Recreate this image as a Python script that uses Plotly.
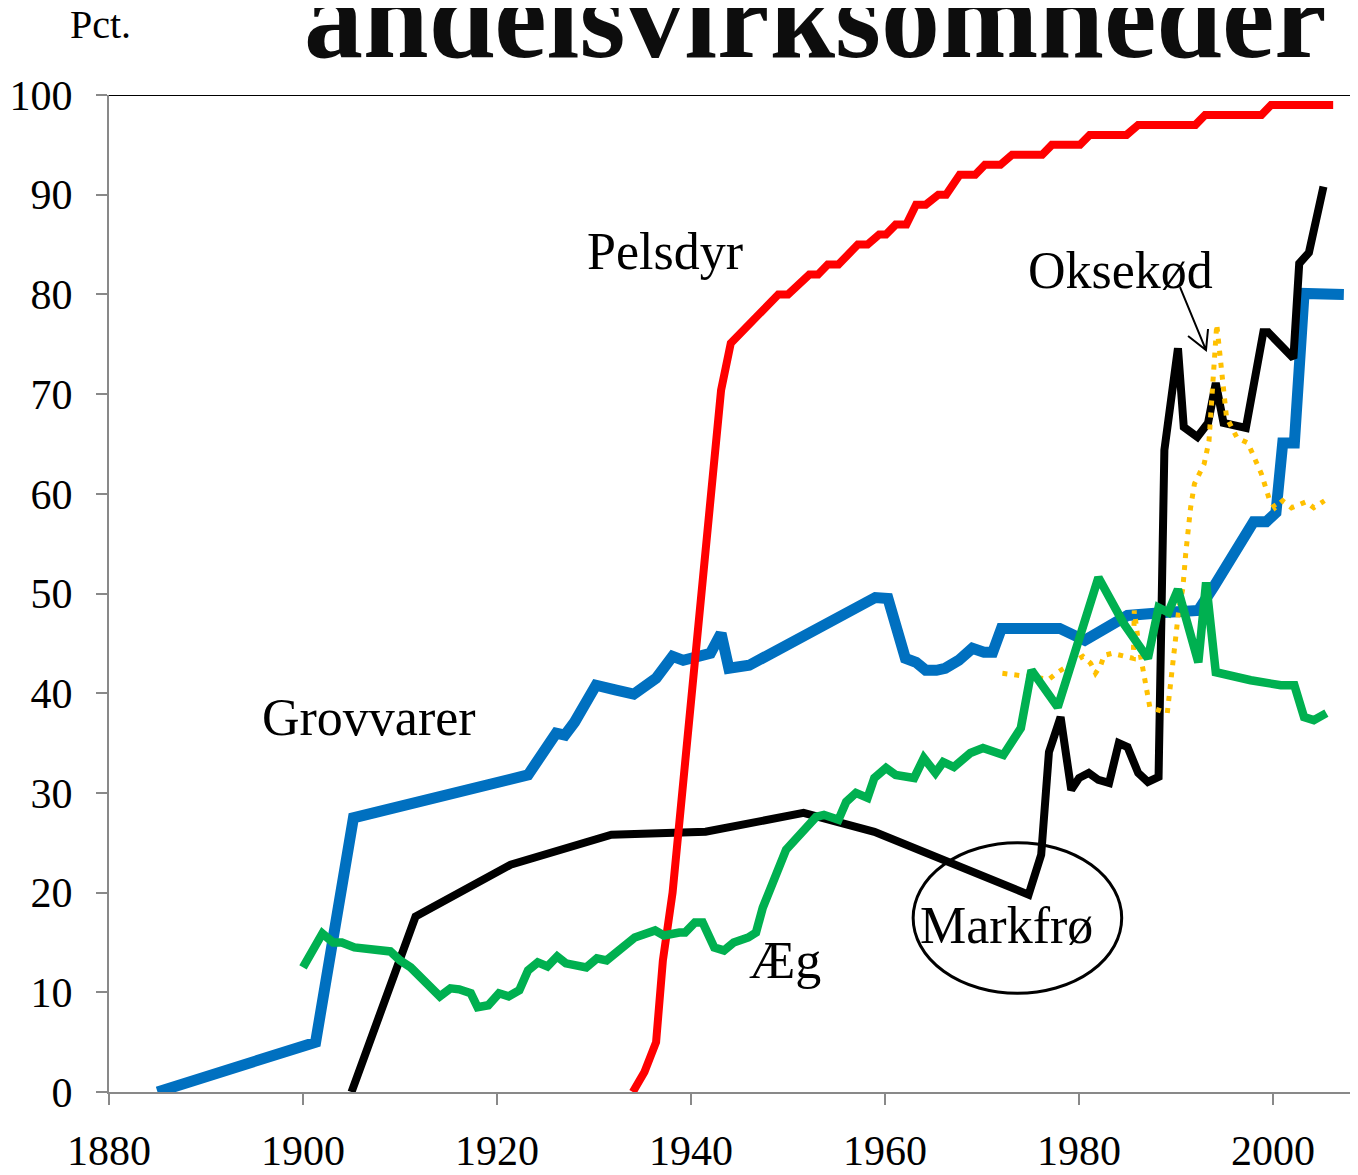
import plotly.graph_objects as go

# ---- data ----
grov_years = [1885, 1901.3, 1905.2, 1923.2, 1926.1, 1927, 1928, 1930.2, 1932.3, 1934.1, 1936.4,
              1938.1, 1939.2, 1941, 1942, 1943.1, 1943.9, 1946, 1959, 1960.3, 1961.3, 1962.1,
              1963.2, 1964.2, 1965.3, 1966.2, 1967.6, 1969, 1970.2, 1971.1, 1972, 1978, 1980.6,
              1985, 1988.8, 1992.3, 1993.9, 1998, 1999.3, 2000.3, 2001, 2002.2, 2003.2, 2007.3]
grov_vals = [0, 5.0, 27.5, 31.8, 36.0, 35.8, 37.1, 40.8, 40.3, 39.9, 41.5,
             43.7, 43.3, 43.8, 44.0, 46.0, 42.5, 42.8, 49.6, 49.5, 45.8, 43.5,
             43.1, 42.3, 42.3, 42.5, 43.3, 44.5, 44.1, 44.1, 46.5, 46.5, 45.3,
             47.8, 48.1, 48.3, 50.7, 57.2, 57.2, 58.1, 65.1, 65.1, 80.1, 80.0]

pels_years = [1934, 1935.2, 1936.4, 1937.1, 1938.1, 1943.1, 1944.1, 1949, 1950, 1952.2, 1953.1,
              1954.1, 1955.2, 1957.2, 1958.2, 1959.4, 1960.1, 1961.1, 1962.2, 1963.2, 1964.2,
              1965.5, 1966.3, 1967.0, 1967.7, 1969.3, 1970.3, 1971.9, 1973.1, 1976.2, 1977.2,
              1980.1, 1981.1, 1984.9, 1986.1, 1992.0, 1993.0, 1998.8, 1999.8, 2006.2]
pels_vals = [0, 2, 5, 13.2, 20, 70.4, 75.1, 80, 80, 82, 82,
             83, 83, 85, 85, 86, 86, 87, 87, 89, 89,
             90, 90, 91, 92, 92, 93, 93, 94, 94, 95,
             95, 96, 96, 97, 97, 98, 98, 99, 99]

mark_years = [1905, 1911.6, 1921.4, 1931.8, 1941.5, 1951.6, 1958.9, 1966.5, 1974.8, 1976.1,
              1976.9, 1978.1, 1979.2, 1980, 1981, 1982, 1983.1, 1984.1, 1985, 1986.1, 1987.1,
              1988.2, 1988.8, 1990.2, 1990.8, 1992.2, 1993.3, 1994.1, 1994.9, 1997.2, 1999,
              1999.5, 2000.6, 2002.1, 2002.7, 2003.7, 2005.2]
mark_vals = [0, 17.6, 22.8, 25.8, 26.1, 28.0, 26.1, 23.0, 19.8, 23.8,
             34.1, 37.6, 30.3, 31.5, 32.0, 31.3, 31.0, 35.0, 34.6, 32.0, 31.1,
             31.6, 64.4, 74.6, 66.7, 65.7, 67.1, 71.1, 67.1, 66.6, 76.2,
             76.2, 75.2, 73.6, 83.1, 84.2, 90.8]

aeg_years = [1900, 1901.1, 1902, 1903.1, 1904, 1905.3, 1907.2, 1909, 1910, 1911.1, 1914.1,
             1915.2, 1916.1, 1917.3, 1918, 1919.1, 1920.2, 1921.2, 1922.3, 1923.2, 1924.2,
             1925.2, 1926.2, 1927.1, 1929.2, 1930.3, 1931.3, 1934.2, 1936.3, 1937.2, 1938.8,
             1939.4, 1940.4, 1941.2, 1942.4, 1943.4, 1944.4, 1945.9, 1946.7, 1947.4, 1949.8,
             1951.3, 1952.9, 1953.7, 1955.2, 1956, 1957, 1958.2, 1958.9, 1960.1, 1961.1,
             1963, 1964, 1965.2, 1966, 1967.1, 1968.8, 1970.1, 1972.2, 1974, 1975.1,
             1977.8, 1982, 1984.6, 1987.1, 1988.2, 1989.2, 1990.2, 1992.3, 1993.1, 1994.1,
             1997.7, 2000.8, 2002.2, 2003.2, 2004.2, 2005.5]
aeg_vals = [12.5, 14.5, 15.9, 15.0, 15.0, 14.5, 14.2, 14.1, 13.2, 12.5, 9.6,
            10.4, 10.3, 9.9, 8.5, 8.7, 9.9, 9.6, 10.2, 12.2, 13.0,
            12.6, 13.6, 12.9, 12.5, 13.4, 13.2, 15.5, 16.2, 15.7, 16.0,
            16.0, 17.0, 17.0, 14.5, 14.2, 15.0, 15.5, 16.0, 18.5, 24.3,
            26.0, 27.6, 27.8, 27.3, 29.1, 30.0, 29.5, 31.5, 32.5, 31.8,
            31.5, 33.5, 32.0, 33.1, 32.6, 34.0, 34.5, 33.8, 36.5, 42.3,
            38.6, 51.6, 47.0, 43.5, 48.6, 48.1, 50.4, 43.1, 51.1, 42.1,
            41.3, 40.8, 40.8, 37.6, 37.3, 38.0]

okse_years = [1972.1, 1974.5, 1976.9, 1977.8, 1978.7, 1980.4, 1981.2, 1981.7, 1982.2, 1982.6,
              1983.4, 1984.6, 1985.6, 1985.7, 1986.2, 1987.3, 1989.1, 1990.3, 1990.7, 1991.0,
              1991.5, 1991.9, 1992.9, 1993.4, 1993.8, 1994.2, 1995.2, 1996.3, 1997.4, 1998.8,
              1999.6, 2000.2, 2001.0, 2001.9, 2003.4, 2004.2, 2005.3]
okse_vals = [42.0, 41.7, 41.4, 42.1, 42.7, 43.7, 43.0, 42.0, 42.7, 43.8,
             44.0, 43.7, 43.5, 48.3, 44.5, 38.6, 38.0, 48.5, 50.5, 54.0,
             58.6, 61.0, 63.0, 65.3, 71.2, 77.0, 67.7, 65.6, 65.1, 62.0,
             59.5, 58.6, 59.3, 58.6, 59.2, 58.6, 59.3]

x_ticks = [1880, 1900, 1920, 1940, 1960, 1980, 2000]
y_ticks = [0, 10, 20, 30, 40, 50, 60, 70, 80, 90, 100]

FONT = "Liberation Serif, Times New Roman, serif"
AXIS_GRAY = "#898989"

fig = go.Figure()
fig.add_trace(go.Scatter(x=grov_years, y=grov_vals, mode="lines", name="Grovvarer",
                         line=dict(color="#0070C0", width=11), cliponaxis=False))
fig.add_trace(go.Scatter(x=mark_years, y=mark_vals, mode="lines", name="Markfrø",
                         line=dict(color="#000000", width=8), cliponaxis=False))
fig.add_trace(go.Scatter(x=okse_years, y=okse_vals, mode="lines", name="Oksekød",
                         line=dict(color="#FFC000", width=5, dash="5px,7px"), cliponaxis=False))
fig.add_trace(go.Scatter(x=pels_years, y=pels_vals, mode="lines", name="Pelsdyr",
                         line=dict(color="#FF0000", width=8), cliponaxis=False))
fig.add_trace(go.Scatter(x=aeg_years, y=aeg_vals, mode="lines", name="Æg",
                         line=dict(color="#00B050", width=8.5), cliponaxis=False))

# the page adds an 8px body margin, so the figure is 8px smaller than the window
fig.update_layout(
    width=1350, height=1167,
    margin=dict(l=101, r=0, t=87, b=83, autoexpand=False),
    paper_bgcolor="white", plot_bgcolor="white",
    showlegend=False,
    font=dict(family=FONT, color="black", size=40),
    xaxis=dict(range=[1880, 2008.76], tickvals=x_ticks, ticktext=[str(v) for v in x_ticks],
               automargin=False,
               showgrid=False, zeroline=False, showline=True, linecolor=AXIS_GRAY, linewidth=2,
               ticks="outside", ticklen=11, tickwidth=2, tickcolor=AXIS_GRAY,
               tickfont=dict(family=FONT, size=42, color="black"), ticklabelstandoff=10),
    yaxis=dict(range=[0, 100], tickvals=y_ticks, ticktext=[str(v) for v in y_ticks],
               automargin=False,
               showgrid=False, zeroline=False, showline=True, linecolor=AXIS_GRAY, linewidth=2,
               ticks="outside", ticklen=11, tickwidth=2, tickcolor=AXIS_GRAY,
               tickfont=dict(family=FONT, size=42, color="black"), ticklabelstandoff=15),
)

# top border line
fig.add_shape(type="line", xref="paper", yref="y", x0=0, x1=1, y0=100, y1=100,
              line=dict(color="black", width=2))

# ellipse around Markfrø
fig.add_shape(type="circle", xref="x", yref="y", x0=1962.9, x1=1984.4, y0=9.9, y1=25.0,
              line=dict(color="black", width=3))

# arrow from Oksekød label to the dotted line
fig.add_shape(type="path", xref="x", yref="y",
              path="M 1990.41 80.74 L 1993.09 74.42 M 1991.24 75.83 L 1993.09 74.42 L 1993.30 76.53",
              line=dict(color="black", width=2))

labels = [("Pelsdyr", 1937.3, 84.3), ("Oksekød", 1984.3, 82.4), ("Grovvarer", 1906.8, 37.6),
          ("Æg", 1949.7, 13.2), ("Markfrø", 1972.5, 16.7)]
for txt, lx, ly in labels:
    fig.add_annotation(x=lx, y=ly, xref="x", yref="y", text=txt, showarrow=False,
                       xanchor="center", yanchor="middle",
                       font=dict(family=FONT, size=52, color="black"))

fig.add_annotation(x=-0.0072, y=1.0707, xref="paper", yref="paper", text="Pct.",
                   showarrow=False, xanchor="center", yanchor="middle",
                   font=dict(family=FONT, size=40, color="black"))
fig.add_annotation(x=0.5653, y=1.0782, xref="paper", yref="paper", text="<b>andelsvirksomheder</b>",
                   showarrow=False, xanchor="center", yanchor="middle",
                   font=dict(family=FONT, size=118, color="#0d0d0d"))

fig.write_html("out.html")
